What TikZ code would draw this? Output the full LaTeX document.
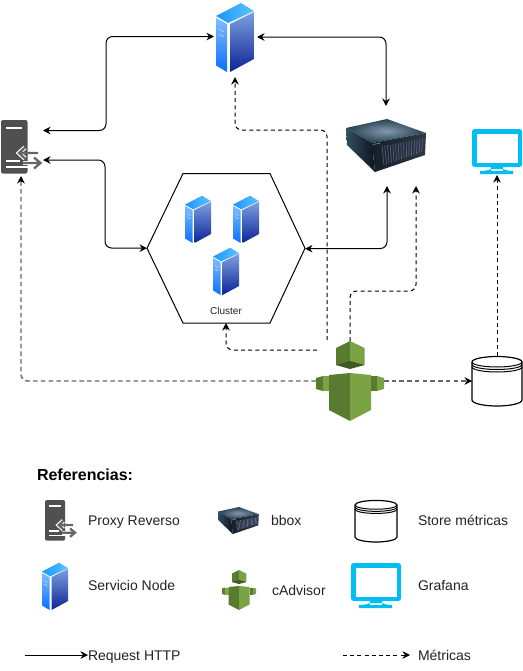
\documentclass[tikz,border=0pt]{standalone}
\usepackage{fontspec}
\setmainfont{Liberation Sans}
\usetikzlibrary{arrows.meta,calc,fit}
\definecolor{advdark}{HTML}{5A7A30}
\definecolor{advlight}{HTML}{7AA343}
\definecolor{advshade}{HTML}{3F5A22}
\definecolor{monblue}{HTML}{00BEF2}
\definecolor{proxygray}{HTML}{505050}
\definecolor{linegray}{HTML}{666666}
\definecolor{txt}{HTML}{222222}
\tikzset{
  ibox/.style={inner sep=0,outer sep=0,draw=none},
  http/.style={black,line width=0.75pt,rounded corners=5pt,{Stealth[length=5.6pt,width=5.6pt]}-{Stealth[length=5.6pt,width=5.6pt]}},
  metric/.style={black,line width=0.75pt,dash pattern=on 3pt off 2.4pt,rounded corners=5pt,-{Stealth[length=5.6pt,width=5.6pt]}},
  metricgray/.style={linegray,line width=1.1pt,dash pattern=on 3.4pt off 2.4pt,rounded corners=5pt},
  label/.style={inner sep=0,outer sep=0,anchor=west,font=\fontsize{10.5pt}{12pt}\selectfont,text=txt,text height=7.5pt,text depth=0pt},
  srvicon/.pic={
    \shade[left color={rgb,255:red,25;green,150;blue,255},right color={rgb,255:red,95;green,195;blue,255}] (0,14)--(25,1)--(38,9)--(12,21)--cycle;
    \shade[top color={rgb,255:red,125;green,190;blue,255},bottom color={rgb,255:red,10;green,110;blue,255}] (0,16)--(11,22)--(11,70)--(0,63.5)--cycle;
    \shade[top color={rgb,255:red,125;green,160;blue,225},bottom color={rgb,255:red,12;green,35;blue,150}] (14,22)--(38,10)--(38,57)--(14,70)--cycle;
    \draw[white!85!blue,line width=0.4pt] (3,27)--(8,30) (3,32)--(8,35);
  },
  proxyicon/.pic={
    \fill[proxygray,rounded corners=1.5pt] (0,0) rectangle (26.5,53.5);
    \draw[white,line width=1pt] (5,8)--(21,8);
    \draw[white,line width=1pt] (5,41)--(19,41) (5,47)--(26.5,47);
    \draw[white,line width=3.4pt] (24,27.5)--(18,33)--(24,38.5);
    \draw[linegray,line width=1.7pt,line join=miter] (24,27.5)--(18,33)--(24,38.5) (18,33)--(37,33);
    \draw[white,line width=3pt] (22,43)--(38,43);
    \draw[linegray,line width=1.7pt] (22,43)--(39,43) (33,37.5)--(39.5,43)--(33,48.5);
  },
  bbicon/.pic={
    \shade[inner color={rgb,255:red,130;green,155;blue,172},outer color={rgb,255:red,38;green,62;blue,78}] (0,9)--(41,0)--(80,14)--(26,24)--cycle;
    \shade[left color={rgb,255:red,50;green,78;blue,98},right color={rgb,255:red,14;green,20;blue,28}] (0,9)--(26,24)--(29,53)--(1,26)--cycle;
    \shade[left color={rgb,255:red,22;green,30;blue,40},right color={rgb,255:red,45;green,58;blue,70}] (26,24)--(80,14)--(79,36)--(29,53)--cycle;
    \foreach \t in {0.18,0.23,...,0.97}{
      \draw[line width=0.5pt,gray!70!blue!80!white,opacity=0.65] ($(26,24)!\t!(80,14)+(0.3,5)$)--($(29,53)!\t!(79,36)+(0,-4)$);
    }
    \draw[line width=0.4pt,cyan!50!gray] (27,25.5)--(34,24.2);
  },
  monicon/.pic={
    \fill[monblue,rounded corners=2pt] (0,0) rectangle (50,38);
    \fill[white] (4.5,4.5) rectangle (45.5,33.5);
    \fill[monblue] (19,38) rectangle (31,42) (8,42) .. controls (14,42) and (17,41) .. (19,40) -- (31,40) .. controls (33,41) and (36,42) .. (41,42) -- (41,45) -- (8,45) -- cycle;
  },
  cylicon/.pic={
    \draw[black,line width=0.9pt,fill=white] (0,6) arc[start angle=180,end angle=360,x radius=25,y radius=5.5] -- (50,44) arc[start angle=0,end angle=180,x radius=25,y radius=6] -- cycle;
    \draw[black,line width=0.75pt] (0,6) arc[start angle=180,end angle=0,x radius=25,y radius=5];
    \draw[black,line width=0.75pt] (0,8.5) arc[start angle=180,end angle=0,x radius=25,y radius=5];
    \draw[black,line width=0.75pt] (0,11) arc[start angle=180,end angle=0,x radius=25,y radius=5];
  },
  advicon/.pic={
    \fill[advdark] (34,0)--(20,7)--(20,24)--(34,24)--cycle;
    \fill[advlight] (34,0)--(48.5,7)--(48.5,24)--(34,24)--cycle;
    \fill[advshade] (20,24)--(34,20)--(48.5,24)--(34,28)--cycle;
    \fill[advdark] (13,34)--(34,32)--(34,80)--(13,69)--cycle;
    \fill[advlight] (34,32)--(55,34)--(55,69)--(34,80)--cycle;
    \fill[advdark] (0,37)--(7,35)--(7,50)--(0,48)--cycle;
    \fill[advlight] (7,35)--(13,35)--(13,50)--(7,50)--cycle;
    \fill[advlight] (68,37)--(61,35)--(61,50)--(68,48)--cycle;
    \fill[advdark] (61,35)--(55,35)--(55,50)--(61,50)--cycle;
  },
}
\begin{document}
\begin{tikzpicture}[x=0.75pt,y=-0.75pt]
\useasboundingbox (0,0) rectangle (523,671);
% anchor boxes
\node[ibox,fit={(1,120)(43,176)}] (proxy) {};
\node[ibox,fit={(214,2)(257,77)}] (srv) {};
\node[ibox,fit={(346,106)(426,186)}] (bb) {};
\node[ibox,fit={(147,173.5)(305,323)}] (hex) {};
\node[ibox,fit={(316,341)(384,421)}] (adv) {};
\node[ibox,fit={(472,356)(522,406)}] (store) {};
\node[ibox,fit={(472,129)(522,175)}] (graf) {};
% hexagon
\draw[black,line width=0.75pt] (hex.west) -- ($(hex.north west)+(36,0)$) -- ($(hex.north east)+(-35,0)$) -- (hex.east) -- ($(hex.south east)+(-35,0)$) -- ($(hex.south west)+(36,0)$) -- cycle;
% connectors
\draw[metricgray] (adv.west) -- (21,381) -- ($(proxy.south)+(-1,5)$);
\draw[metricgray] (adv.east) -- ($(store.west)+(-5,0)$);
\draw[black,line width=0.75pt,-{Stealth[length=5.6pt,width=5.6pt]}] ($(store.west)+(-5,0)$) -- (store.west);
\draw[black,line width=0.75pt,-{Stealth[length=5.6pt,width=5.6pt]}] ($(proxy.south)+(-1,5)$) -- ($(proxy.south)+(-1,0)$);
\draw[http] ($(proxy.east)+(0,-17.5)$) -- (106,130.5) -- (106,36.5) -- ($(srv.west)+(0,-3)$);
\draw[http] ($(proxy.east)+(0,12)$) -- (105,160) -- (105,248) -- (hex.west);
\draw[http] ($(srv.east)+(0,-2.5)$) -- (386,37) -- (bb.north);
\draw[http] ($(hex.east)+(0,0.5)$) -- (387,248.5) -- ($(bb.south)+(1,0)$);
\draw[metric] (adv.north) -- (350,291) -- (416,291) -- ($(bb.south)+(30,0)$);
\draw[metric] ($(adv.north)+(-23,-1)$) -- (327,130) -- (235,130) -- ($(srv.south)+(-0.5,0)$);
\draw[metric] ($(adv.north west)+(1,9)$) -- (226,350) -- (hex.south);
\draw[metric] (store.north) -- (graf.south);
% diagram icons
\pic at (216,2) {srvicon};
\pic[scale=0.685] at (185,195) {srvicon};
\pic[scale=0.685] at (233,195) {srvicon};
\pic[scale=0.685] at (213,247) {srvicon};
\pic at (1,120) {proxyicon};
\pic at (346,119) {bbicon};
\pic at (472,129) {monicon};
\pic at (472,356) {cylicon};
\pic at (316,341) {advicon};
\node[inner sep=0,outer sep=0,font=\fontsize{7.5pt}{9pt}\selectfont,text=txt,text height=5.4pt,text depth=0pt] (clu) at (226,311) {Cluster};
% legend
\node[inner sep=0,outer sep=0,anchor=west,font=\bfseries\fontsize{12pt}{14pt}\selectfont,text=black,text height=8.6pt,text depth=0pt] (ref) at (37,475) {Referencias:};
\pic[scale=0.76] at (45,500) {proxyicon};
\pic[scale=0.685] at (42,562) {srvicon};
\pic[scale=0.51] at (218,507) {bbicon};
\pic[scale=0.5] at (222,570) {advicon};
\pic[scale=0.84] at (355,500) {cylicon};
\pic at (351,563) {monicon};
\node[label] (t1) at (88,520) {Proxy Reverso};
\node[label] (t2) at (88,585) {Servicio Node};
\node[label] (t3) at (271,520) {bbox};
\node[label] (t4) at (272,590) {cAdvisor};
\node[label] (t5) at (418,520) {Store métricas};
\node[label] (t6) at (418,585) {Grafana};
\node[label] (t7) at (88,655) {Request HTTP};
\node[label] (t8) at (418,655) {Métricas};
\coordinate (l1) at (25,655);
\coordinate (l2) at (343,655);
\coordinate (l3) at (410,655);
\draw[black,line width=0.6pt,-{Stealth[length=5.6pt,width=5.6pt]}] (l1) -- (t7.west);
\draw[metric,line width=0.6pt] (l2) -- (l3);
\end{tikzpicture}
\end{document}
